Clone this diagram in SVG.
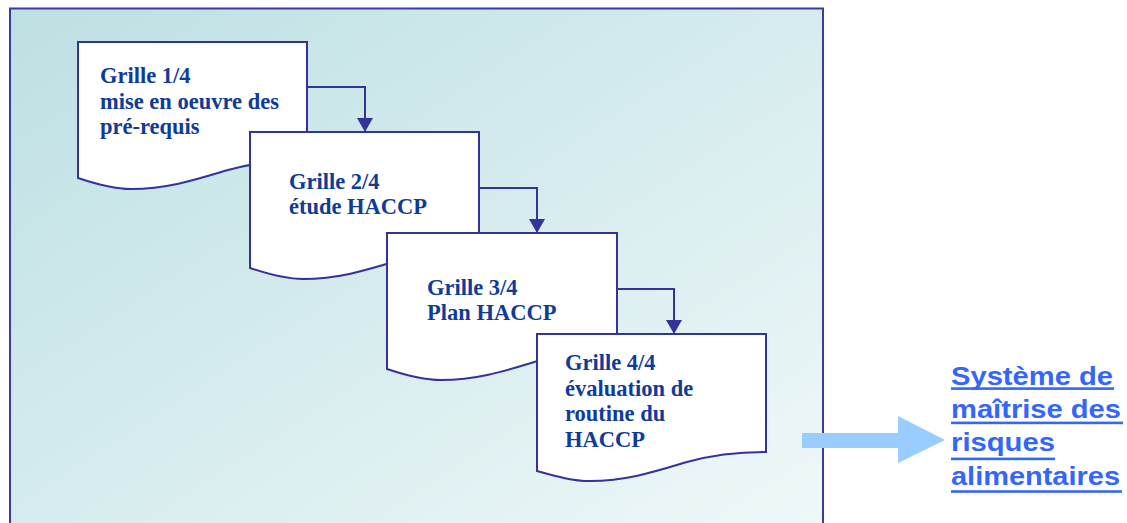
<svg xmlns="http://www.w3.org/2000/svg" width="1127" height="523" viewBox="0 0 1127 523">
  <defs>
    <linearGradient id="bg" x1="0" y1="0" x2="1" y2="1">
      <stop offset="0" stop-color="#bde0e3"/>
      <stop offset="1" stop-color="#f0f8f9"/>
    </linearGradient>
    <marker id="ah" markerWidth="14" markerHeight="16" refX="14" refY="8" viewBox="0 0 14 16" orient="auto" markerUnits="userSpaceOnUse">
      <path d="M0,0 L14,8 L0,16 Z" fill="#333399"/>
    </marker>
    <style>
      .doc { fill: #ffffff; stroke: #333399; stroke-width: 2; }
      .lbl { font-family: "Liberation Serif", "Times New Roman", serif; font-weight: bold; font-size: 22.5px; fill: #0f3b9b; }
      .conn { fill: none; stroke: #333399; stroke-width: 2; }
      .link { font-family: "Liberation Sans", Arial, sans-serif; font-weight: bold; font-size: 26px; fill: #3366ff; }
      .ul { fill: #3366ff; }
    </style>
  </defs>

  <rect x="0" y="0" width="1127" height="523" fill="#ffffff"/>
  <rect id="frame" x="10" y="8.5" width="813" height="530" fill="url(#bg)" stroke="#3b3ba3" stroke-width="2"/>

  <g id="doc1">
    <path class="doc" d="M78,42 H307 V160 C278,160 253,163 228,170 C198,179 168,189 131,189 C113,189 96,184 78,178 Z"/>
    <text class="lbl" x="100" y="83">Grille 1/4</text>
    <text class="lbl" x="100" y="109">mise en oeuvre des</text>
    <text class="lbl" x="100" y="134">pré-requis</text>
  </g>

  <g id="doc2">
    <path class="doc" d="M250,132 H479 V250 C450,250 425,253 400,260 C370,269 340,279 303,279 C285,279 268,274 250,268 Z"/>
    <text class="lbl" x="289" y="189">Grille 2/4</text>
    <text class="lbl" x="289" y="214">étude HACCP</text>
  </g>

  <g id="doc3">
    <path class="doc" d="M387,233 H617 V351 C588,351 563,354 538,361 C508,370 478,380 441,380 C423,380 405,375 387,369 Z"/>
    <text class="lbl" x="427" y="295">Grille 3/4</text>
    <text class="lbl" x="427" y="320">Plan HACCP</text>
  </g>

  <g id="doc4">
    <path class="doc" d="M537,334 H766 V452 C737,452 712,455 687,462 C657,471 627,481 590,481 C572,481 555,476 537,471 Z"/>
    <text class="lbl" x="565" y="370">Grille 4/4</text>
    <text class="lbl" x="565" y="396">évaluation de</text>
    <text class="lbl" x="565" y="421">routine du</text>
    <text class="lbl" x="565" y="447">HACCP</text>
  </g>

  <g id="connectors">
    <path class="conn" d="M307,87 H365 V132" marker-end="url(#ah)"/>
    <path class="conn" d="M479,188 H537 V233" marker-end="url(#ah)"/>
    <path class="conn" d="M617,289 H674 V334" marker-end="url(#ah)"/>
    <path id="bigarrow" d="M802,433 H898 V416 L945,440 L898,463 V448 H802 Z" fill="#99ccff"/>
  </g>

  <g id="result">
    <text class="link" x="951" y="384.5" textLength="162" lengthAdjust="spacingAndGlyphs">Système de</text>
    <rect class="ul" x="951" y="387.3" width="163" height="2.6"/>
    <text class="link" x="951" y="417.5" textLength="170" lengthAdjust="spacingAndGlyphs">maîtrise des</text>
    <rect class="ul" x="951" y="421.6" width="172" height="2.6"/>
    <text class="link" x="951" y="451" textLength="104" lengthAdjust="spacingAndGlyphs">risques</text>
    <rect class="ul" x="951" y="457.6" width="104" height="2.6"/>
    <text class="link" x="951" y="484.5" textLength="169" lengthAdjust="spacingAndGlyphs">alimentaires</text>
    <rect class="ul" x="951" y="490.2" width="171" height="2.6"/>
  </g>
</svg>
